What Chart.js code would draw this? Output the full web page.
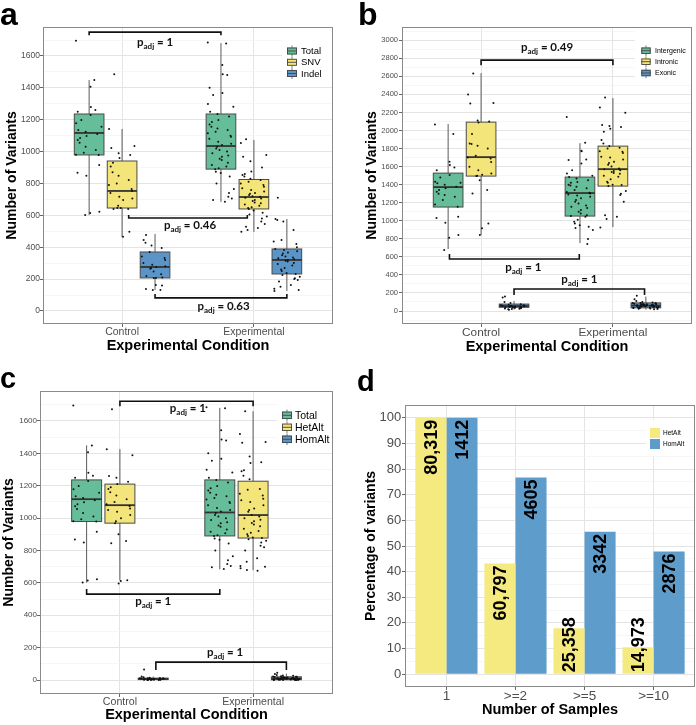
<!DOCTYPE html>
<html>
<head>
<meta charset="utf-8">
<script src="https://cdn.jsdelivr.net/npm/chart.js@4.4.0/dist/chart.umd.min.js"></script>
<style>
  body { margin: 0; background: #fff; }
  #fig { position: relative; width: 696px; height: 725px; overflow: hidden; font-family: "Liberation Sans", Arial, sans-serif; }
  .panel { position: absolute; }
  .tag { position: absolute; font-weight: bold; line-height: 1; color: #000; }
</style>
</head>
<body>
<div id="fig">
  <div class="panel" style="left:0;top:0"><canvas id="ca" width="348" height="360"></canvas></div>
  <div class="panel" style="left:348px;top:0"><canvas id="cb" width="348" height="360"></canvas></div>
  <div class="panel" style="left:0;top:362px"><canvas id="cc" width="348" height="363"></canvas></div>
  <div class="panel" style="left:348px;top:362px"><canvas id="cd" width="348" height="363"></canvas></div>
  <div class="tag" style="left:0;top:-2px;font-size:32px">a</div>
  <div class="tag" style="left:358px;top:-2px;font-size:32px">b</div>
  <div class="tag" style="left:0;top:364px;font-size:29px">c</div>
  <div class="tag" style="left:357px;top:367px;font-size:29px">d</div>
</div>
<script>
const conditions = ["Control", "Experimental"];

// panel a / c: variants per sample
const totalCtrl = [1696, 1449, 1407, 1280, 1261, 1250, 1230, 1198, 1178, 1156, 1135, 1125, 1110, 1098, 1085, 1073, 1056, 1031, 1010, 993, 981, 979, 916, 868, 849, 623, 615, 602];
const totalExp = [1685, 1679, 1543, 1485, 1480, 1400, 1367, 1355, 1298, 1282, 1250, 1236, 1220, 1198, 1185, 1170, 1156, 1145, 1135, 1125, 1115, 1100, 1093, 1080, 1062, 1050, 1041, 1031, 1020, 1010, 1000, 989, 975, 968, 955, 947, 930, 916, 906, 895, 890, 874, 866, 843, 800, 765, 740, 717, 705, 696, 686];
const snvCtrl = [1485, 1142, 1035, 1022, 990, 979, 960, 930, 906, 870, 849, 822, 800, 790, 765, 752, 740, 717, 705, 696, 660, 646, 646, 640, 640, 497, 466];
const snvExp = [1077, 1054, 979, 968, 940, 900, 875, 859, 853, 843, 830, 822, 811, 800, 790, 780, 770, 759, 750, 740, 735, 728, 720, 717, 710, 705, 696, 690, 680, 676, 668, 660, 650, 646, 640, 630, 617, 605, 592, 580, 561, 545, 529, 520, 508, 497];
const indelCtrl = [477, 445, 428, 410, 395, 370, 341, 333, 320, 301, 290, 280, 276, 270, 265, 247, 230, 220, 210, 207, 207, 163, 160, 138, 132, 132];
const indelExp = [711, 577, 571, 561, 508, 445, 435, 420, 400, 389, 383, 375, 366, 360, 350, 341, 335, 330, 325, 320, 315, 310, 301, 295, 285, 270, 260, 250, 238, 232, 225, 215, 205, 200, 194, 185, 163, 152, 140, 132, 125];
// box summaries: [lower whisker, Q1, median, Q3, upper whisker]
const totalCtrlBox = [602, 979, 1117, 1236, 1449];
const totalExpBox = [684, 890, 1035, 1236, 1681];
const snvCtrlBox = [464, 646, 753, 941, 1142];
const snvExpBox = [496, 640, 715, 825, 1073];
const indelCtrlBox = [132, 207, 276, 370, 483];
const indelExpBox = [125, 232, 320, 389, 577];
const aYTicks = [0, 200, 400, 600, 800, 1000, 1200, 1400, 1600];

// panel b: by region
const intergenicCtrl = [2066, 1960, 1654, 1617, 1590, 1561, 1506, 1480, 1432, 1420, 1417, 1400, 1377, 1360, 1340, 1321, 1300, 1285, 1266, 1230, 1180, 1155, 1044, 1030, 978, 842, 812, 676];
const intergenicExp = [2150, 1865, 1776, 1770, 1680, 1672, 1635, 1561, 1525, 1500, 1484, 1469, 1450, 1430, 1420, 1400, 1390, 1377, 1360, 1340, 1320, 1310, 1303, 1290, 1280, 1266, 1250, 1229, 1210, 1192, 1170, 1155, 1140, 1118, 1100, 1081, 1060, 1052, 1044, 1010, 989, 971, 950, 934, 920, 897, 797, 742];
const intronicCtrl = [2632, 2398, 2306, 2300, 2110, 2100, 2090, 1960, 1857, 1850, 1830, 1801, 1720, 1701, 1690, 1650, 1598, 1560, 1524, 1510, 1500, 1495, 1450, 1340, 1303, 971, 916, 842];
const intronicExp = [2366, 2255, 2196, 2060, 2050, 2040, 2020, 1986, 1894, 1857, 1827, 1810, 1800, 1770, 1764, 1750, 1709, 1700, 1680, 1654, 1640, 1620, 1600, 1580, 1572, 1561, 1550, 1540, 1530, 1520, 1500, 1487, 1460, 1432, 1420, 1400, 1395, 1384, 1329, 1300, 1285, 1210, 1060, 1044, 1020, 925];
const exonicCtrl = [160, 150, 100, 90, 75, 70, 65, 62, 60, 58, 55, 52, 50, 50, 48, 46, 45, 44, 42, 40, 38, 35, 30, 28, 25, 22, 20, 15];
const exonicExp = [170, 130, 110, 100, 95, 90, 88, 85, 82, 80, 78, 76, 74, 72, 70, 68, 66, 65, 64, 63, 62, 61, 60, 59, 58, 57, 56, 55, 54, 52, 50, 48, 46, 45, 44, 42, 40, 38, 36, 35, 33, 30, 28, 25, 22, 20];
const intergenicCtrlBox = [687, 1152, 1373, 1528, 2071];
const intergenicExpBox = [753, 1052, 1307, 1484, 1860];
const intronicCtrlBox = [842, 1495, 1705, 2093, 2636];
const intronicExpBox = [930, 1384, 1572, 1827, 2359];
const exonicCtrlBox = [15, 41, 55, 77, 110];
const exonicExpBox = [15, 35, 60, 90, 160];
const bYTicks = [0, 200, 400, 600, 800, 1000, 1200, 1400, 1600, 1800, 2000, 2200, 2400, 2600, 2800, 3000];

// panel c: by genotype
const hetAltCtrl = [1673, 1426, 1389, 1260, 1250, 1225, 1210, 1190, 1180, 1160, 1140, 1117, 1100, 1085, 1075, 1060, 1050, 1040, 1020, 1000, 980, 969, 901, 858, 845, 617, 611, 597];
const hetAltExp = [1660, 1520, 1470, 1465, 1380, 1345, 1340, 1295, 1290, 1262, 1240, 1180, 1175, 1150, 1140, 1120, 1110, 1100, 1080, 1060, 1050, 1040, 1020, 1010, 1000, 990, 980, 970, 960, 950, 935, 920, 910, 900, 890, 880, 877, 870, 860, 850, 830, 820, 800, 752, 730, 705, 700, 690, 679, 675];
const homAltCtrl = [65, 22, 18, 15, 13, 12, 11, 10, 9, 9, 8, 8, 7, 7, 6, 6, 5, 5, 4, 4, 3, 3, 2, 2, 1, 1, 0, 0];
const homAltExp = [45, 38, 32, 28, 26, 24, 22, 21, 20, 19, 18, 17, 16, 15, 14, 13, 13, 12, 12, 11, 11, 10, 10, 9, 9, 9, 8, 8, 8, 7, 7, 7, 6, 6, 6, 5, 5, 5, 4, 4, 4, 3, 3, 2, 2, 2, 1, 1, 0, 0];
const hetAltCtrlBox = [617, 969, 1080, 1210, 1426];
const hetAltExpBox = [679, 877, 1019, 1228, 1660];
const homAltCtrlBox = [0, 3, 7, 12, 22];
const homAltExpBox = [0, 2, 9, 20, 40];
const cYTicks = [0, 200, 400, 600, 800, 1000, 1200, 1400, 1600];

// panel d: shared variants
const sampleBins = ["1", ">=2", ">=5", ">=10"];
const hetAltPct = [100, 43.2, 17.9, 10.5];
const homAltPct = [100, 76.7, 55.6, 47.9];
const hetAltN = ["80,319", "60,797", "25,358", "14,973"];
const homAltN = ["1412", "4605", "3342", "2876"];
const dYTicks = [0, 10, 20, 30, 40, 50, 60, 70, 80, 90, 100];

const GREEN = "#66bd99", YELLOW = "#f3e57a", BLUE = "#5b95c7";
const SANS = '"Liberation Sans", Arial, sans-serif';
Chart.defaults.font.family = SANS;
Chart.defaults.color = "#4d4d4d";

function withMinor(majors, min, max) {
    const step = majors[1] - majors[0];
    const out = majors.slice();
    for (let v = majors[0] - step / 2; v <= majors[majors.length - 1] + step / 2; v += step) {
        if (v > min && v < max) out.push(v);
    }
    return out.sort((a, b) => a - b);
}

function yAxis(majors, min, max, fontSize, width, titleText, titlePad, labPad) {
    const major = new Set(majors);
    return {
        min, max,
        afterBuildTicks: (s) => { s.ticks = withMinor(majors, min, max).map((v) => ({ value: v })); },
        afterFit: (s) => { s.width = width; },
        ticks: { autoSkip: false, padding: labPad, font: { size: fontSize, lineHeight: 1 }, color: "#4d4d4d",
            callback: (v) => (major.has(v) ? String(v) : "") },
        grid: {
            color: (c) => (c.tick && major.has(c.tick.value) ? "#e4e4e4" : "#f2f2f2"),
            lineWidth: (c) => (c.tick && major.has(c.tick.value) ? 1 : 0.7),
            tickColor: (c) => (c.tick && major.has(c.tick.value) ? "#666" : "rgba(0,0,0,0)"),
            tickLength: 3,
        },
        border: { display: false },
        title: { display: true, text: titleText, color: "#000", font: { size: 14, weight: "bold", lineHeight: 1 }, padding: { top: titlePad, bottom: 0 } },
    };
}

function xAxis(labels, min, max, fontSize, height, titleText, titlePad) {
    return {
        type: "linear", min, max, offset: false,
        afterBuildTicks: (s) => { s.ticks = labels.map((l, i) => ({ value: i + 1 })); },
        afterFit: (s) => { s.height = height; },
        ticks: { autoSkip: false, maxRotation: 0, padding: 0, font: { size: fontSize, lineHeight: 1 }, color: "#4d4d4d",
            callback: (v) => labels[v - 1] },
        grid: { color: "#e4e4e4", tickColor: "#666", tickLength: 3, offset: false },
        border: { display: false },
        title: { display: true, text: titleText, color: "#000", font: { size: 14.5, weight: "bold", lineHeight: 1 }, padding: { top: 0, bottom: titlePad } },
    };
}

function jitter(i) {
    // fixed quasi-irregular spread, identical every run
    const f = (i * 0.6180339887 + i * i * 0.0791) % 1;
    return (f - 0.5) * 0.2;
}

function pLabel(ctx, x, y, val, size) {
    const big = "bold " + size + "px Lato", small = "bold " + Math.round(size * 0.68) + "px Lato";
    const rest = " = " + val;
    ctx.font = big;
    const wp = ctx.measureText("p").width, wr = ctx.measureText(rest).width;
    ctx.font = small;
    const ws = ctx.measureText("adj").width;
    let sx = x - (wp + ws + wr) / 2;
    ctx.fillStyle = "#111";
    ctx.textBaseline = "alphabetic";
    ctx.textAlign = "left";
    ctx.font = big; ctx.fillText("p", sx, y + 3); sx += wp;
    ctx.font = small; ctx.fillText("adj", sx, y + 6); sx += ws;
    ctx.font = big; ctx.fillText(rest, sx, y + 3);
}

function drawLegend(ctx, lg) {
    ctx.save();
    ctx.fillStyle = "#fff";
    ctx.fillRect(lg.bg[0], lg.bg[1], lg.bg[2], lg.bg[3]);
    lg.items.forEach((it, i) => {
        const cy = lg.rows[i];
        const x0 = lg.x, w = lg.w, h = lg.h;
        if (lg.box) {
            ctx.strokeStyle = "#555"; ctx.lineWidth = 0.8;
            ctx.beginPath();
            ctx.moveTo(x0 + w / 2, cy - h / 2 - 2); ctx.lineTo(x0 + w / 2, cy + h / 2 + 2);
            ctx.stroke();
            ctx.fillStyle = it.color;
            ctx.fillRect(x0, cy - h / 2, w, h);
            ctx.strokeStyle = "#444"; ctx.lineWidth = 0.9;
            ctx.strokeRect(x0 + 0.5, cy - h / 2 + 0.5, w - 1, h - 1);
            ctx.beginPath(); ctx.moveTo(x0, cy); ctx.lineTo(x0 + w, cy); ctx.stroke();
        } else {
            ctx.fillStyle = it.color;
            ctx.fillRect(x0, cy - h / 2, w, h);
        }
        ctx.fillStyle = "#000";
        ctx.font = lg.font + "px " + SANS;
        ctx.textBaseline = "middle"; ctx.textAlign = "left";
        ctx.fillText(it.name, lg.tx, cy + 0.5);
    });
    ctx.restore();
}

function boxChart(id, p) {
    const offsets = [-0.25, 0, 0.25];
    const datasets = [];
    const boxes = [];
    p.groups.forEach((g, gi) => {
        [g.ctrl, g.exp].forEach((vals, ci) => {
            const cx = ci + 1 + offsets[gi];
            datasets.push({
                label: g.name + " " + conditions[ci],
                data: vals.map((v, i) => ({ x: cx + jitter(i + gi * 7), y: v })),
                pointRadius: 1.0, pointBorderWidth: 0,
                pointBackgroundColor: "#111", borderColor: "#111",
            });
            boxes.push({ x: cx, stats: ci === 0 ? g.ctrlBox : g.expBox, color: g.color });
        });
    });

    const decor = {
        id: "decor",
        beforeDatasetsDraw(chart) {
            const { ctx, scales: { x, y } } = chart;
            ctx.save();
            boxes.forEach((b) => {
                const cx = x.getPixelForValue(b.x);
                const hw = x.getPixelForValue(b.x + 0.1125) - cx;
                const [lo, q1, md, q3, hi] = b.stats.map((v) => y.getPixelForValue(v));
                ctx.strokeStyle = "#5a5a5a"; ctx.lineWidth = 1;
                ctx.beginPath(); ctx.moveTo(cx, lo); ctx.lineTo(cx, hi); ctx.stroke();
                ctx.fillStyle = b.color;
                ctx.fillRect(cx - hw, q3, 2 * hw, q1 - q3);
                ctx.strokeStyle = "#4a4a4a"; ctx.lineWidth = 1;
                ctx.strokeRect(cx - hw, q3, 2 * hw, q1 - q3);
                ctx.strokeStyle = "#333"; ctx.lineWidth = 1.8;
                ctx.beginPath(); ctx.moveTo(cx - hw, md); ctx.lineTo(cx + hw, md); ctx.stroke();
            });
            ctx.restore();
        },
        afterDatasetsDraw(chart) {
            const { ctx, chartArea: a, scales: { x, y } } = chart;
            ctx.save();
            p.brackets.forEach((br) => {
                const x1 = x.getPixelForValue(br.x1), x2 = x.getPixelForValue(br.x2);
                const yy = y.getPixelForValue(br.y), tip = y.getPixelForValue(br.tip);
                ctx.strokeStyle = "#111"; ctx.lineWidth = 1.6;
                ctx.beginPath();
                ctx.moveTo(x1, tip); ctx.lineTo(x1, yy); ctx.lineTo(x2, yy); ctx.lineTo(x2, tip);
                ctx.stroke();
                pLabel(ctx, x.getPixelForValue(br.lx), y.getPixelForValue(br.ly), br.val, p.pSize);
            });
            drawLegend(ctx, p.legend);
            ctx.strokeStyle = "#8a8a8a"; ctx.lineWidth = 1;
            ctx.strokeRect(a.left + 0.5, a.top + 0.5, a.width - 1, a.height - 1);
            ctx.restore();
        },
    };

    return new Chart(document.getElementById(id), {
        type: "scatter",
        data: { datasets },
        options: {
            responsive: false,
            animation: false,
            layout: { padding: { left: 0, top: p.top, right: p.right, bottom: 0 } },
            plugins: { legend: { display: false }, tooltip: { enabled: false } },
            scales: {
                x: xAxis(conditions, 0.4, 2.6, p.xFont, p.xh, "Experimental Condition", p.xTitlePad),
                y: yAxis(p.yTicks, p.yMin, p.yMax, p.yFont, p.yw, "Number of Variants", p.yTitlePad, p.yLabPad),
            },
        },
        plugins: [decor],
    });
}

// ---- a ----
boxChart("ca", {
    top: 27, right: 15, yw: 43, xh: 36,
    yMin: -82, yMax: 1782, yTicks: aYTicks, yFont: 8.5, xFont: 10.5,
    yTitlePad: 5, xTitlePad: 7, yLabPad: 0, pSize: 11.5,
    groups: [
        { name: "Total", color: GREEN, ctrl: totalCtrl, exp: totalExp, ctrlBox: totalCtrlBox, expBox: totalExpBox },
        { name: "SNV", color: YELLOW, ctrl: snvCtrl, exp: snvExp, ctrlBox: snvCtrlBox, expBox: snvExpBox },
        { name: "Indel", color: BLUE, ctrl: indelCtrl, exp: indelExp, ctrlBox: indelCtrlBox, expBox: indelExpBox },
    ],
    brackets: [
        { x1: 0.75, x2: 1.75, y: 1750, tip: 1731, lx: 1.25, ly: 1681, val: "1" },
        { x1: 1.05, x2: 1.95, y: 583, tip: 602, lx: 1.515, ly: 533, val: "0.46" },
        { x1: 1.25, x2: 2.25, y: 82, tip: 107, lx: 1.77, ly: 25, val: "0.63" },
    ],
    legend: { bg: [282, 40, 50, 42], x: 287, w: 10, h: 7, tx: 301, font: 9.5, box: true, rows: [51, 62.3, 73.5],
        items: [{ name: "Total", color: GREEN }, { name: "SNV", color: YELLOW }, { name: "Indel", color: BLUE }] },
});

// ---- b ----
boxChart("cb", {
    top: 27, right: 3, yw: 54, xh: 36,
    yMin: -144, yMax: 3147, yTicks: bYTicks, yFont: 7.5, xFont: 11.8,
    yTitlePad: 17, xTitlePad: 6, yLabPad: 1, pSize: 11.5,
    groups: [
        { name: "Intergenic", color: GREEN, ctrl: intergenicCtrl, exp: intergenicExp, ctrlBox: intergenicCtrlBox, expBox: intergenicExpBox },
        { name: "Intronic", color: YELLOW, ctrl: intronicCtrl, exp: intronicExp, ctrlBox: intronicCtrlBox, expBox: intronicExpBox },
        { name: "Exonic", color: BLUE, ctrl: exonicCtrl, exp: exonicExp, ctrlBox: exonicCtrlBox, expBox: exonicExpBox },
    ],
    brackets: [
        { x1: 1, x2: 2, y: 2780, tip: 2724, lx: 1.5, ly: 2912, val: "0.49" },
        { x1: 0.76, x2: 1.745, y: 576, tip: 631, lx: 1.32, ly: 476, val: "1" },
        { x1: 1.25, x2: 2.24, y: 244, tip: 177, lx: 1.745, ly: 343, val: "1" },
    ],
    legend: { bg: [287, 30, 57, 55], x: 293.3, w: 9.4, h: 6.5, tx: 307, font: 7, box: true, rows: [50.7, 61.7, 73],
        items: [{ name: "Intergenic", color: GREEN }, { name: "Intronic", color: YELLOW }, { name: "Exonic", color: BLUE }] },
});

// ---- c ----
boxChart("cc", {
    top: 29, right: 15, yw: 40, xh: 31,
    yMin: -86, yMax: 1785, yTicks: cYTicks, yFont: 8, xFont: 10.6,
    yTitlePad: 2, xTitlePad: 3, yLabPad: 0, pSize: 11.5,
    groups: [
        { name: "Total", color: GREEN, ctrl: totalCtrl, exp: totalExp, ctrlBox: totalCtrlBox, expBox: totalExpBox },
        { name: "HetAlt", color: YELLOW, ctrl: hetAltCtrl, exp: hetAltExp, ctrlBox: hetAltCtrlBox, expBox: hetAltExpBox },
        { name: "HomAlt", color: BLUE, ctrl: homAltCtrl, exp: homAltExp, ctrlBox: homAltCtrlBox, expBox: homAltExpBox },
    ],
    brackets: [
        { x1: 1, x2: 2, y: 1722, tip: 1691, lx: 1.51, ly: 1673, val: "1" },
        { x1: 0.75, x2: 1.75, y: 531, tip: 562, lx: 1.25, ly: 481, val: "1" },
        { x1: 1.27, x2: 2.25, y: 111, tip: 62, lx: 1.79, ly: 167, val: "1" },
    ],
    legend: { bg: [277, 42, 55, 46], x: 282, w: 10, h: 7.5, tx: 295, font: 10.5, box: true, rows: [53.3, 65.3, 77.3],
        items: [{ name: "Total", color: GREEN }, { name: "HetAlt", color: YELLOW }, { name: "HomAlt", color: BLUE }] },
});

// ---- d ----
const barLabels = {
    id: "barLabels",
    afterDatasetsDraw(chart) {
        const { ctx, chartArea: a, scales: { y } } = chart;
        const y0 = y.getPixelForValue(0);
        ctx.save();
        [hetAltN, homAltN].forEach((labels, di) => {
            chart.getDatasetMeta(di).data.forEach((el, i) => {
                ctx.save();
                ctx.font = "bold 18px " + SANS;
                const w = ctx.measureText(labels[i]).width;
                const top = Math.min(el.y + 2, y0 - 2 - w);
                ctx.translate(el.x + 1, top);
                ctx.rotate(-Math.PI / 2);
                ctx.textAlign = "right"; ctx.textBaseline = "middle";
                ctx.fillStyle = "#000";
                ctx.fillText(labels[i], 0, 0);
                ctx.restore();
            });
        });
        drawLegend(ctx, { bg: [298, 58, 48, 36], x: 302, w: 10, h: 10, tx: 315, font: 6.5, box: false, rows: [71, 82],
            items: [{ name: "HetAlt", color: "#f4ea80" }, { name: "HomAlt", color: "#5e9dcb" }] });
        ctx.strokeStyle = "#8a8a8a"; ctx.lineWidth = 1;
        ctx.strokeRect(a.left + 0.5, a.top + 0.5, a.width - 1, a.height - 1);
        ctx.restore();
    },
};

new Chart(document.getElementById("cd"), {
    type: "bar",
    data: {
        datasets: [
            { label: "HetAlt", data: hetAltPct.map((v, i) => ({ x: i + 1, y: v })), backgroundColor: "#f4ea80",
                borderWidth: 0, categoryPercentage: 0.9, barPercentage: 1 },
            { label: "HomAlt", data: homAltPct.map((v, i) => ({ x: i + 1, y: v })), backgroundColor: "#5e9dcb",
                borderWidth: 0, categoryPercentage: 0.9, barPercentage: 1 },
        ],
    },
    options: {
        responsive: false,
        animation: false,
        layout: { padding: { left: 0, top: 43, right: 1, bottom: 0 } },
        plugins: { legend: { display: false }, tooltip: { enabled: false } },
        scales: {
            x: xAxis(sampleBins, 0.4, 4.6, 13.5, 38, "Number of Samples", 8),
            y: yAxis(dYTicks, -5, 105, 13, 57, "Percentage of variants", 15.75, 0.7),
        },
    },
    plugins: [barLabels],
});
</script>
</body>
</html>
